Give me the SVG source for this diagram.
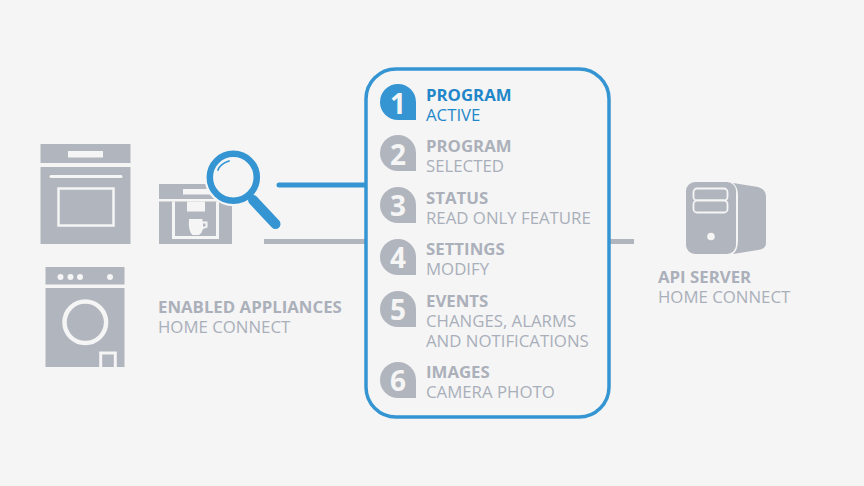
<svg xmlns="http://www.w3.org/2000/svg" width="864" height="486" viewBox="0 0 864 486">
<style>
.g{fill:#b1b5bd}
.w{fill:#f5f5f5}
.ws{fill:none;stroke:#f5f5f5}
.h{font:700 16.800px "Open Sans",sans-serif;fill:#abb0ba}
.s{font:400 16.800px "Open Sans",sans-serif;fill:#a9afba}
.hb{fill:#1f87c9}
.n{font:700 28px "Open Sans",sans-serif;fill:#f5f5f5;text-anchor:middle}
.b{fill:#3595d3}
</style>
<defs>
<path id="badge" d="M0 18A18 18 0 1 1 18 0V18Z"/>
</defs>
<rect width="864" height="486" fill="#f5f5f5"/>
<g id="connectors" fill="none" stroke-width="5">
<path d="M279 185H366" stroke="#3595d3" stroke-linecap="round"/>
<path d="M264 241.500H366M608 241.500H634" stroke="#b1b5bd"/>
</g>
<g id="oven">
<rect class="g" x="40.500" y="144" width="90" height="19"/>
<rect class="g" x="40.500" y="167" width="90" height="77"/>
<rect class="w" x="68" y="151" width="35" height="6.500"/>
<path d="M51 176.500H121" class="ws" stroke-width="3" stroke-linecap="round"/>
<rect class="ws" x="58.500" y="188.500" width="55" height="37" stroke-width="2.500"/>
</g>
<g id="coffee-machine">
<rect class="g" x="159" y="184" width="73" height="15"/>
<rect class="g" x="159" y="201.500" width="73" height="42.500"/>
<rect class="w" x="183" y="189" width="27" height="5.500"/>
<path d="M173.500 201.500V237.500H217.500V201.500" class="ws" stroke-width="3"/>
<rect class="w" x="187" y="201.500" width="18" height="10"/>
<!-- cup with its handle -->
<path class="w" d="M189 219H202.500V221.500H207.500V227.500L203 229Q202 233 199 235H192.500Q188 231 189 219Z"/>
<rect class="g" x="203" y="223.500" width="2.500" height="3"/>
</g>
<g id="washer">
<rect class="g" x="45.500" y="267" width="79" height="17.500"/>
<rect class="g" x="45.500" y="288" width="79" height="79"/>
<circle class="w" cx="60.500" cy="277" r="3"/>
<circle class="w" cx="70.500" cy="277" r="3"/>
<circle class="w" cx="80" cy="277" r="3"/>
<circle class="w" cx="110" cy="277" r="3"/>
<circle class="ws" cx="85.300" cy="322.300" r="20.800" stroke-width="4.500"/>
<path d="M100.700 367V353H115.300V367" class="ws" stroke-width="3"/>
</g>
<g id="magnifier">
<path d="M253 200L275.500 224" stroke="#f5f5f5" stroke-width="14" stroke-linecap="round"/>
<circle cx="233.300" cy="177.300" r="29" fill="#f5f5f5"/>
<path d="M253 200L275.500 224" stroke="#3595d3" stroke-width="10" stroke-linecap="round"/>
<circle cx="233.300" cy="177.300" r="23.500" fill="#f5f5f5" stroke="#3595d3" stroke-width="6.500"/>
<path d="M218 170Q220 164 229 161" fill="none" stroke="#3595d3" stroke-width="1.800" stroke-linecap="round"/>
</g>
<g id="appliances-label">
<text class="h" x="158" y="313">ENABLED APPLIANCES</text>
<text class="s" x="158" y="333">HOME CONNECT</text>
</g>
<g id="features-panel">
<rect x="366" y="69" width="243" height="348" rx="30" fill="#f5f5f5" stroke="#3595d3" stroke-width="3.500"/>
</g>
<g id="feature-1">
<use href="#badge" x="398" y="102" class="b"/>
<text class="n" x="398" y="113.500">1</text>
<text class="h hb" x="426" y="101">PROGRAM</text>
<text class="s hb" x="426" y="120.500">ACTIVE</text>
</g>
<g id="feature-2">
<use href="#badge" x="398" y="153" class="g"/>
<text class="n" x="398" y="164.500">2</text>
<text class="h" x="426" y="152">PROGRAM</text>
<text class="s" x="426" y="172">SELECTED</text>
</g>
<g id="feature-3">
<use href="#badge" x="398" y="205" class="g"/>
<text class="n" x="398" y="215.500">3</text>
<text class="h" x="426" y="203.500">STATUS</text>
<text class="s" x="426" y="223.500">READ ONLY FEATURE</text>
</g>
<g id="feature-4">
<use href="#badge" x="398" y="257" class="g"/>
<text class="n" x="398" y="267.500">4</text>
<text class="h" x="426" y="255">SETTINGS</text>
<text class="s" x="426" y="275">MODIFY</text>
</g>
<g id="feature-5">
<use href="#badge" x="398" y="309" class="g"/>
<text class="n" x="398" y="319.500">5</text>
<text class="h" x="426" y="306.500">EVENTS</text>
<text class="s" x="426" y="326.500">CHANGES, ALARMS</text>
<text class="s" x="426" y="346.500">AND NOTIFICATIONS</text>
</g>
<g id="feature-6">
<use href="#badge" x="398" y="380" class="g"/>
<text class="n" x="398" y="390.500">6</text>
<text class="h" x="426" y="377.500">IMAGES</text>
<text class="s" x="426" y="397.500">CAMERA PHOTO</text>
</g>
<g id="api-server">
<path class="g" d="M733 183L758 187Q766 189 766 197V243Q766 249 758 250L733 254Q738 250 738 240V195Q738 187 733 183Z"/>
<rect class="g" x="686" y="182" width="50" height="72" rx="9"/>
<rect class="g" x="693.500" y="188.500" width="34" height="12" rx="3.500" stroke="#f5f5f5" stroke-width="1.800"/>
<rect class="g" x="693.500" y="200.500" width="34" height="12" rx="3.500" stroke="#f5f5f5" stroke-width="1.800"/>
<circle class="w" cx="711" cy="236.500" r="3.800"/>
<text class="h" x="658" y="283">API SERVER</text>
<text class="s" x="658" y="303">HOME CONNECT</text>
</g>
</svg>
